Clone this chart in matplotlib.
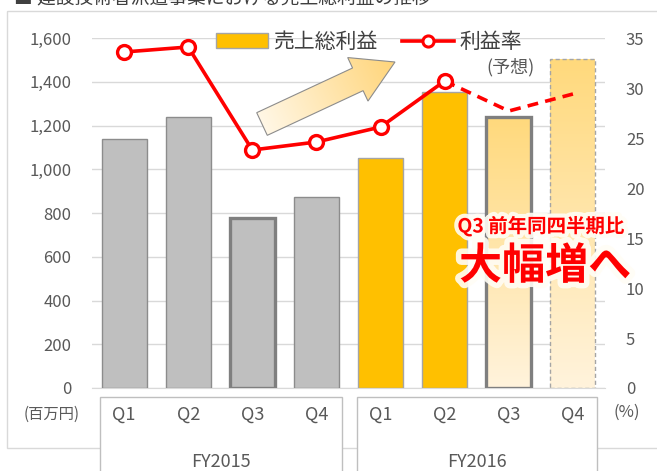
import numpy as np
import matplotlib.pyplot as plt
import matplotlib.patheffects as pe
import matplotlib.transforms as mtransforms
from matplotlib.patches import Rectangle, FancyArrow, Patch
from matplotlib.lines import Line2D
from matplotlib.colors import to_rgb

plt.rcParams['font.family'] = ['Noto Sans CJK JP', 'DejaVu Sans']

# data
quarters = ['Q1', 'Q2', 'Q3', 'Q4', 'Q1', 'Q2', 'Q3', 'Q4']
years = ['FY2015', 'FY2016']
gross_profit = [1140, 1240, 778, 873, 1052, 1355, 1240, 1505]   # 百万円
margin = [33.6, 34.1, 23.8, 24.6, 26.1, 30.7, 27.7, 29.4]        # %
left_ticks = [0, 200, 400, 600, 800, 1000, 1200, 1400, 1600]
right_ticks = [0, 5, 10, 15, 20, 25, 30, 35]

W, H = 657, 471
fig = plt.figure(figsize=(W / 100, H / 100), dpi=100)
fig.patch.set_facecolor('white')


def fx(px):
    return px / W


def fy(py):
    return 1 - py / H


txt = '#595959'
grid_c = '#D9D9D9'

ax = fig.add_axes([fx(92), fy(388), (605 - 92) / W, 350 / H])
x = np.arange(len(gross_profit))
bw = 0.7

# bars
styles = [
    dict(fc='#BFBFBF', ec='#8C8C8C', lw=1.0, ls='-'),
    dict(fc='#BFBFBF', ec='#8C8C8C', lw=1.0, ls='-'),
    dict(fc='#BFBFBF', ec='#7F7F7F', lw=2.4, ls='-'),
    dict(fc='#BFBFBF', ec='#8C8C8C', lw=1.0, ls='-'),
    dict(fc='#FFC000', ec='#A5A5A5', lw=1.0, ls='-'),
    dict(fc='#FFC000', ec='#A5A5A5', lw=1.0, ls='-'),
    dict(fc='none', ec='#7F7F7F', lw=2.4, ls='-'),
    dict(fc='none', ec='#A5A5A5', lw=1.0, ls=(0, (3, 2))),
]
c_top = np.array(to_rgb('#FFD97C'))
c_bot = np.array(to_rgb('#FFF3DC'))
t = np.linspace(0, 1, 200)[:, None, None]
grad = c_bot + (c_top - c_bot) * t

for i, v in enumerate(gross_profit):
    s = styles[i]
    b = ax.bar(x[i], v, bw, facecolor=s['fc'], edgecolor=s['ec'],
               linewidth=s['lw'], linestyle=s['ls'], zorder=3)[0]
    if s['fc'] == 'none':
        im = ax.imshow(grad, extent=(x[i] - bw / 2, x[i] + bw / 2, 0, v),
                       origin='lower', aspect='auto', zorder=2.5)
        im.set_clip_path(b)

ax.set_xlim(-0.5, 7.5)
ax.set_ylim(0, 1600)
ax.set_yticks(left_ticks)
ax.set_yticklabels([f'{v:,}' for v in left_ticks])
ax.set_xticks([])
ax.grid(axis='y', color=grid_c, lw=1)
ax.set_axisbelow(True)
for sp in ['top', 'left', 'right']:
    ax.spines[sp].set_visible(False)
ax.spines['bottom'].set_color(grid_c)
ax.tick_params(axis='y', length=0, pad=15, labelsize=12, labelcolor=txt)
ax.patch.set_alpha(0)

# margin line
ax2 = ax.twinx()
ax2.set_ylim(0, 35)
ax2.set_yticks(right_ticks)
for sp in ax2.spines.values():
    sp.set_visible(False)
ax2.tick_params(axis='y', length=0, pad=15, labelsize=12, labelcolor=txt)
ax2.plot(x[:6], margin[:6], color='#FF0000', lw=2.6, marker='o', ms=10,
         mfc='white', mec='#FF0000', mew=2.4, zorder=5)
ax2.plot(x[5:], margin[5:], color='#FF0000', lw=2.6, ls=(0, (3, 2)), zorder=4)

ax2.legend(handles=[Patch(fc='#FFC000', ec='#A5A5A5'),
                    Line2D([], [], color='#FF0000', lw=2.6, marker='o', ms=8,
                           mfc='white', mec='#FF0000', mew=2.2)],
           labels=['売上総利益', '利益率'], loc='center',
           bbox_to_anchor=(fx(369), fy(42)), bbox_transform=fig.transFigure,
           ncol=2, frameon=False, fontsize=15, handlelength=2.5,
           handleheight=0.7, handletextpad=0.25, columnspacing=1.2,
           labelcolor='#404040')

# overlay in pixel coordinates for decorations
ov = fig.add_axes([0, 0, 1, 1])
ov.set_xlim(0, W)
ov.set_ylim(H, 0)
ov.axis('off')

ov.add_patch(Rectangle((7, 11), 700, 437, fill=False, ec=grid_c, lw=1))
ov.text(14, 8, '■ 建設技術者派遣事業における売上総利益の推移', fontsize=13.5,
        color='#404040', va='bottom', ha='left')

# category boxes
for x0, x1, yr in [(100, 342, years[0]), (357, 597, years[1])]:
    ov.add_patch(Rectangle((x0, 397), x1 - x0, 100, fc='white', ec='#BFBFBF', lw=1))
    ov.text((x0 + x1) / 2, 462, yr, fontsize=13, color=txt, ha='center', va='center')

xt = mtransforms.blended_transform_factory(ax.transData, ov.transData)
for i, q in enumerate(quarters):
    ov.text(x[i], 415, q, transform=xt, fontsize=13, color=txt,
            ha='center', va='center')

ov.text(52, 414, '(百万円)', fontsize=11, color=txt, ha='center', va='center')
ov.text(627, 412, '(%)', fontsize=12, color=txt, ha='center', va='center')
ov.text(510, 67, '(予想)', fontsize=13, color=txt, ha='center', va='center')

# gradient arrow
tail = np.array([262.0, 124.0])
tip = np.array([395.0, 62.0])
d = tip - tail
arrow = FancyArrow(tail[0], tail[1], d[0], d[1], width=25, head_width=48,
                   head_length=41, length_includes_head=True,
                   fc='none', ec='#8C8C8C', lw=0.8, zorder=6)
ov.add_patch(arrow)
gx0, gx1, gy0, gy1 = 250, 400, 50, 140
gxs, gys = np.meshgrid(np.linspace(gx0, gx1, 300), np.linspace(gy0, gy1, 180))
u = d / np.hypot(*d)
tt = np.clip(((gxs - tail[0]) * u[0] + (gys - tail[1]) * u[1]) / np.hypot(*d), 0, 1)
a0 = np.array(to_rgb('#FFF7E6'))
a1 = np.array(to_rgb('#FFD57A'))
agrad = a0 + (a1 - a0) * tt[..., None]
aim = ov.imshow(agrad, extent=(gx0, gx1, gy1, gy0), origin='upper',
                aspect='auto', zorder=5.5)
aim.set_clip_path(arrow)
ov.set_xlim(0, W)
ov.set_ylim(H, 0)

glow = [pe.withStroke(linewidth=6, foreground='#FFFDF5', alpha=0.9)]
ov.text(541, 226, 'Q3 前年同四半期比', fontsize=14, fontweight='bold',
        color='#FF0000', ha='center', va='center', path_effects=glow, zorder=8)
ov.text(545, 266, '大幅増へ', fontsize=31, fontweight='bold',
        color='#FF0000', ha='center', va='center',
        path_effects=[pe.withStroke(linewidth=8, foreground='#FFFDF5', alpha=0.9)],
        zorder=8)

fig.savefig('out.png', dpi=100)
